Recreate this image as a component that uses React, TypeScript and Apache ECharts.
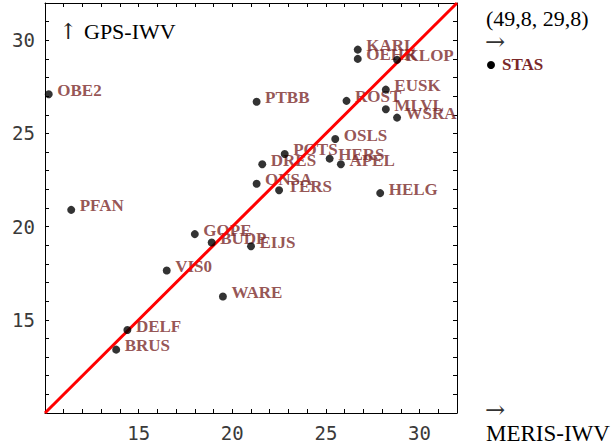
import React, { useEffect, useRef } from "react";
import * as echarts from "echarts";

const stationNames = [
  "OBE2", "PFAN", "KARL", "OEHR", "KLOP", "EUSK", "ROST", "PTBB", "MLVL", "WSRA",
  "OSLS", "POTS", "HERS", "APEL", "DRES", "ONSA", "TERS", "HELG", "GOPE", "BUDP",
  "EIJS", "VIS0", "WARE", "DELF", "BRUS",
];
const merisValues = [
  10.2, 11.4, 26.7, 26.7, 28.8, 28.2, 26.1, 21.3, 28.2, 28.8,
  25.5, 22.8, 25.2, 25.8, 21.6, 21.3, 22.5, 27.9, 18.0, 18.9,
  21.0, 16.5, 19.5, 14.4, 13.8,
];
const gpsValues = [
  27.1, 20.9, 29.5, 29.0, 28.95, 27.35, 26.75, 26.7, 26.3, 25.85,
  24.7, 23.9, 23.65, 23.35, 23.35, 22.3, 21.95, 21.8, 19.6, 19.15,
  18.95, 17.65, 16.25, 14.45, 13.4,
];
const lineXs = [10, 32];
const lineYs = [10, 32];
const tickLabels = [15, 20, 25, 30];

const axisMin = 10;
const axisMax = 32;

const tickFont = "DejaVu Sans Mono";
const serif = "Liberation Serif";
const arrowFont = "DejaVu Serif";
const labelColor = "#7a2828";

export default function App() {
  const ref = useRef<HTMLDivElement>(null);
  useEffect(() => {
    if (!ref.current) return;
    const chart = echarts.init(ref.current, null, { renderer: "svg" });
    const pts = stationNames.map((n, i) => ({ name: n, value: [merisValues[i], gpsValues[i]] }));
    const mkAxis = (pos: string, showLabel: boolean) => ({
      type: "value",
      min: axisMin,
      max: axisMax,
      interval: 1,
      position: pos,
      axisLine: { show: true, onZero: false, lineStyle: { color: "#000", width: 1 } },
      axisTick: { show: true, inside: true, length: 4, lineStyle: { color: "#000", width: 1 } },
      splitLine: { show: false },
      axisLabel: {
        show: showLabel,
        margin: 10,
        fontFamily: tickFont,
        fontSize: 19,
        color: "#3a3a3a",
        formatter: (v: number) => (tickLabels.indexOf(v) >= 0 ? String(v) : ""),
      },
    });
    chart.setOption({
      animation: false,
      backgroundColor: "#fff",
      grid: { left: 45, right: 156, top: 3, bottom: 35, containLabel: false },
      xAxis: [mkAxis("bottom", true), mkAxis("top", false)],
      yAxis: [mkAxis("left", true), mkAxis("right", false)],
      series: [
        {
          type: "scatter",
          z: 1,
          symbolSize: 1,
          itemStyle: { color: "rgba(0,0,0,0)" },
          data: pts,
          label: {
            show: true,
            position: "right",
            distance: 8,
            offset: [0, -4],
            formatter: "{b}",
            fontFamily: serif,
            fontWeight: "bold",
            fontSize: 17,
            color: labelColor,
          },
        },
        {
          type: "line",
          z: 2,
          symbol: "none",
          data: lineXs.map((x, i) => [x, lineYs[i]]),
          lineStyle: { color: "#ff0000", width: 3 },
        },
        {
          type: "scatter",
          z: 3,
          symbolSize: 8,
          itemStyle: { color: "#000" },
          data: pts,
        },
      ],
      graphic: [
        { type: "text", left: 59, top: 20, style: { text: "↑", font: `22px "${arrowFont}"`, fill: "#222" } },
        { type: "text", left: 84, top: 20, style: { text: "GPS-IWV", font: `22px "${serif}"`, fill: "#000" } },
        { type: "text", left: 486, top: 7, style: { text: "(49,8, 29,8)", font: `22px "${serif}"`, fill: "#000" } },
        { type: "text", left: 485, top: 30, style: { text: "→", font: `24px "${arrowFont}"`, fill: "#333" } },
        { type: "circle", shape: { cx: 491, cy: 65, r: 4 }, style: { fill: "#000" } },
        { type: "text", left: 502, top: 56, style: { text: "STAS", font: `bold 17px "${serif}"`, fill: labelColor } },
        { type: "text", left: 485, top: 398, style: { text: "→", font: `24px "${arrowFont}"`, fill: "#333" } },
        { type: "text", left: 486, top: 422, style: { text: "MERIS-IWV", font: `23px "${serif}"`, fill: "#000" } },
      ],
    });
    return () => chart.dispose();
  }, []);
  return (
    <div
      ref={ref}
      style={{ position: "fixed", left: 0, top: 0, width: 613, height: 448, background: "#fff" }}
    />
  );
}
